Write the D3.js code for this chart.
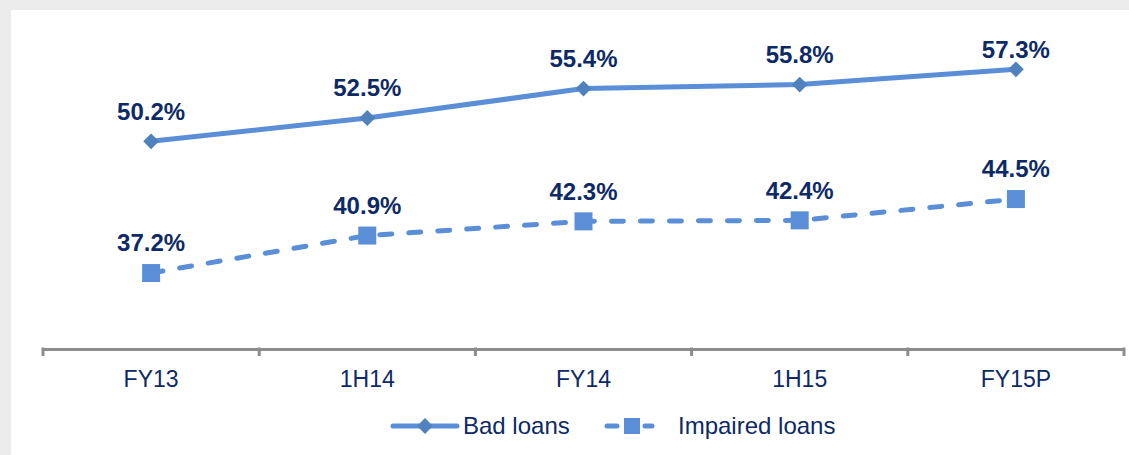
<!DOCTYPE html>
<html>
<head>
<meta charset="utf-8">
<script src="https://cdn.jsdelivr.net/npm/d3@7"></script>
<style>
  body { margin: 0; background: #ebebeb; }
  svg { display: block; }
</style>
</head>
<body>
<svg width="1129" height="455"></svg>
<script>
var categories = ['FY13', '1H14', 'FY14', '1H15', 'FY15P'];
var badLoans = [50.2, 52.5, 55.4, 55.8, 57.3];
var impairedLoans = [37.2, 40.9, 42.3, 42.4, 44.5];
var seriesNames = ['Bad loans', 'Impaired loans'];

var lineColor = '#5a8fd8';
var diamondColor = '#4f81bd';
var squareColor = '#5a8fd8';
var textColor = '#0d2a66';
var font = 'Liberation Sans, Arial, sans-serif';

var svg = d3.select('svg');

// white panel
svg.append('rect').attr('x', 11).attr('y', 10).attr('width', 1118).attr('height', 445).attr('fill', '#ffffff');

var x = d3.scaleBand().domain(categories).range([43, 1124]);
var y = d3.scaleLinear().domain([30, 60]).range([346, 42]);
var axisY = 349;

// x axis
var xAxis = svg.append('g').attr('transform', 'translate(0,' + axisY + ')')
  .call(d3.axisBottom(x).tickSize(0).tickSizeOuter(0));
xAxis.select('.domain').attr('stroke', '#8c8c8c').attr('stroke-width', 3);
xAxis.selectAll('.tick text').attr('font-family', font).attr('font-size', 23)
  .attr('fill', textColor).attr('dy', 0).attr('y', 38);

// tick marks at band edges
var edges = categories.map(function(c) { return x(c); }).concat([x.range()[1]]);
svg.append('g').selectAll('line').data(edges).join('line')
  .attr('x1', d => d).attr('x2', d => d)
  .attr('y1', axisY - 1.5).attr('y2', axisY + 7)
  .attr('stroke', '#8c8c8c').attr('stroke-width', 3);

var cx = d => x(d) + x.bandwidth() / 2;

var line = d3.line().x((d, i) => cx(categories[i])).y(d => y(d));

// bad loans
svg.append('path').datum(badLoans).attr('d', line)
  .attr('fill', 'none').attr('stroke', lineColor).attr('stroke-width', 5);

var diamond = d3.symbol().type(d3.symbolSquare).size(125);
svg.append('g').selectAll('path').data(badLoans).join('path')
  .attr('d', diamond)
  .attr('transform', (d, i) => 'translate(' + cx(categories[i]) + ',' + y(d) + ') rotate(45)')
  .attr('fill', diamondColor);

// impaired loans
svg.append('path').datum(impairedLoans).attr('d', line)
  .attr('fill', 'none').attr('stroke', lineColor).attr('stroke-width', 5)
  .attr('stroke-dasharray', '12,17').attr('stroke-linecap', 'round');

svg.append('g').selectAll('rect').data(impairedLoans).join('rect')
  .attr('x', (d, i) => cx(categories[i]) - 9).attr('y', d => y(d) - 9)
  .attr('width', 18).attr('height', 18).attr('fill', squareColor);

// value labels
function labels(values) {
  svg.append('g').selectAll('text').data(values).join('text')
    .attr('x', (d, i) => cx(categories[i]))
    .attr('y', d => Math.max(y(d) - 30, 50))
    .attr('dy', '0.35em')
    .attr('text-anchor', 'middle')
    .attr('font-family', font).attr('font-size', 24).attr('font-weight', 'bold')
    .attr('fill', textColor)
    .text(d => d.toFixed(1) + '%');
}
labels(badLoans);
labels(impairedLoans);

// legend
var lg = svg.append('g');
lg.append('line').attr('x1', 393).attr('x2', 457).attr('y1', 426).attr('y2', 426)
  .attr('stroke', lineColor).attr('stroke-width', 5).attr('stroke-linecap', 'round');
lg.append('path').attr('d', diamond)
  .attr('transform', 'translate(425,426) rotate(45)').attr('fill', diamondColor);
lg.append('text').attr('x', 463).attr('y', 426).attr('dy', '0.35em')
  .attr('font-family', font).attr('font-size', 24).attr('fill', textColor).text(seriesNames[0]);

lg.append('line').attr('x1', 607).attr('x2', 617).attr('y1', 426).attr('y2', 426)
  .attr('stroke', lineColor).attr('stroke-width', 5).attr('stroke-linecap', 'round');
lg.append('line').attr('x1', 645).attr('x2', 652).attr('y1', 426).attr('y2', 426)
  .attr('stroke', lineColor).attr('stroke-width', 5).attr('stroke-linecap', 'round');
lg.append('rect').attr('x', 624).attr('y', 418).attr('width', 16).attr('height', 16).attr('fill', squareColor);
lg.append('text').attr('x', 678).attr('y', 426).attr('dy', '0.35em')
  .attr('font-family', font).attr('font-size', 24).attr('fill', textColor).text(seriesNames[1]);
</script>
</body>
</html>
